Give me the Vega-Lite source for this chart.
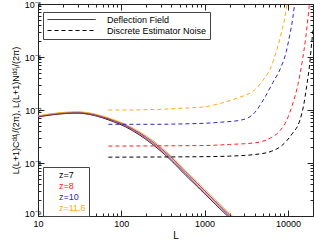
{
"$schema": "https://vega.github.io/schema/vega-lite/v6.json",
"width": 275, "height": 212,
"autosize": {"type": "none"},
"padding": {"left": 38, "top": 4, "right": 1, "bottom": 26},
"background": "white",
"config": {
 "font": "Liberation Sans",
 "view": {"stroke": "#222", "strokeWidth": 1},
 "axis": {"labelFont": "Liberation Sans", "labelFontSize": 9, "labelColor": "#000", "titleFont": "Liberation Sans", "titleFontSize": 10, "titleFontWeight": "normal", "titleColor": "#000", "domain": false, "grid": false, "tickColor": "#222", "tickWidth": 1, "labelOverlap": false, "labelFlush": false, "labelBound": false},
 "legend": {"labelFont": "Liberation Sans", "labelFontSize": 9, "labelColor": "#000"}
},
"data": {"values": [
{"L":10,"v":7.41e-8,"z":"z=7","t":"Deflection Field"},{"L":15,"v":8.13e-8,"z":"z=7","t":"Deflection Field"},{"L":20,"v":8.51e-8,"z":"z=7","t":"Deflection Field"},{"L":30,"v":8.71e-8,"z":"z=7","t":"Deflection Field"},{"L":40,"v":8.32e-8,"z":"z=7","t":"Deflection Field"},{"L":60,"v":7.08e-8,"z":"z=7","t":"Deflection Field"},{"L":80,"v":6.03e-8,"z":"z=7","t":"Deflection Field"},{"L":100,"v":5.25e-8,"z":"z=7","t":"Deflection Field"},{"L":150,"v":3.72e-8,"z":"z=7","t":"Deflection Field"},{"L":200,"v":2.75e-8,"z":"z=7","t":"Deflection Field"},{"L":300,"v":1.66e-8,"z":"z=7","t":"Deflection Field"},{"L":400,"v":1.10e-8,"z":"z=7","t":"Deflection Field"},{"L":600,"v":5.75e-9,"z":"z=7","t":"Deflection Field"},{"L":800,"v":3.72e-9,"z":"z=7","t":"Deflection Field"},{"L":1000,"v":2.63e-9,"z":"z=7","t":"Deflection Field"},{"L":1500,"v":1.41e-9,"z":"z=7","t":"Deflection Field"},{"L":2000,"v":9.12e-10,"z":"z=7","t":"Deflection Field"},{"L":3000,"v":4.90e-10,"z":"z=7","t":"Deflection Field"},
{"L":10,"v":7.52e-8,"z":"z=8","t":"Deflection Field"},{"L":15,"v":8.27e-8,"z":"z=8","t":"Deflection Field"},{"L":20,"v":8.66e-8,"z":"z=8","t":"Deflection Field"},{"L":30,"v":8.88e-8,"z":"z=8","t":"Deflection Field"},{"L":40,"v":8.50e-8,"z":"z=8","t":"Deflection Field"},{"L":60,"v":7.27e-8,"z":"z=8","t":"Deflection Field"},{"L":80,"v":6.22e-8,"z":"z=8","t":"Deflection Field"},{"L":100,"v":5.43e-8,"z":"z=8","t":"Deflection Field"},{"L":150,"v":3.89e-8,"z":"z=8","t":"Deflection Field"},{"L":200,"v":2.90e-8,"z":"z=8","t":"Deflection Field"},{"L":300,"v":1.77e-8,"z":"z=8","t":"Deflection Field"},{"L":400,"v":1.18e-8,"z":"z=8","t":"Deflection Field"},{"L":600,"v":6.15e-9,"z":"z=8","t":"Deflection Field"},{"L":800,"v":3.98e-9,"z":"z=8","t":"Deflection Field"},{"L":1000,"v":2.81e-9,"z":"z=8","t":"Deflection Field"},{"L":1500,"v":1.51e-9,"z":"z=8","t":"Deflection Field"},{"L":2000,"v":9.76e-10,"z":"z=8","t":"Deflection Field"},{"L":3000,"v":5.24e-10,"z":"z=8","t":"Deflection Field"},
{"L":10,"v":7.63e-8,"z":"z=10","t":"Deflection Field"},{"L":15,"v":8.41e-8,"z":"z=10","t":"Deflection Field"},{"L":20,"v":8.82e-8,"z":"z=10","t":"Deflection Field"},{"L":30,"v":9.06e-8,"z":"z=10","t":"Deflection Field"},{"L":40,"v":8.69e-8,"z":"z=10","t":"Deflection Field"},{"L":60,"v":7.47e-8,"z":"z=10","t":"Deflection Field"},{"L":80,"v":6.41e-8,"z":"z=10","t":"Deflection Field"},{"L":100,"v":5.62e-8,"z":"z=10","t":"Deflection Field"},{"L":150,"v":4.06e-8,"z":"z=10","t":"Deflection Field"},{"L":200,"v":3.06e-8,"z":"z=10","t":"Deflection Field"},{"L":300,"v":1.88e-8,"z":"z=10","t":"Deflection Field"},{"L":400,"v":1.26e-8,"z":"z=10","t":"Deflection Field"},{"L":600,"v":6.58e-9,"z":"z=10","t":"Deflection Field"},{"L":800,"v":4.26e-9,"z":"z=10","t":"Deflection Field"},{"L":1000,"v":3.01e-9,"z":"z=10","t":"Deflection Field"},{"L":1500,"v":1.61e-9,"z":"z=10","t":"Deflection Field"},{"L":2000,"v":1.04e-9,"z":"z=10","t":"Deflection Field"},{"L":3000,"v":5.61e-10,"z":"z=10","t":"Deflection Field"},
{"L":10,"v":7.75e-8,"z":"z=11.6","t":"Deflection Field"},{"L":15,"v":8.55e-8,"z":"z=11.6","t":"Deflection Field"},{"L":20,"v":8.98e-8,"z":"z=11.6","t":"Deflection Field"},{"L":30,"v":9.24e-8,"z":"z=11.6","t":"Deflection Field"},{"L":40,"v":8.88e-8,"z":"z=11.6","t":"Deflection Field"},{"L":60,"v":7.67e-8,"z":"z=11.6","t":"Deflection Field"},{"L":80,"v":6.61e-8,"z":"z=11.6","t":"Deflection Field"},{"L":100,"v":5.82e-8,"z":"z=11.6","t":"Deflection Field"},{"L":150,"v":4.24e-8,"z":"z=11.6","t":"Deflection Field"},{"L":200,"v":3.23e-8,"z":"z=11.6","t":"Deflection Field"},{"L":300,"v":2.01e-8,"z":"z=11.6","t":"Deflection Field"},{"L":400,"v":1.35e-8,"z":"z=11.6","t":"Deflection Field"},{"L":600,"v":7.04e-9,"z":"z=11.6","t":"Deflection Field"},{"L":800,"v":4.56e-9,"z":"z=11.6","t":"Deflection Field"},{"L":1000,"v":3.22e-9,"z":"z=11.6","t":"Deflection Field"},{"L":1500,"v":1.73e-9,"z":"z=11.6","t":"Deflection Field"},{"L":2000,"v":1.12e-9,"z":"z=11.6","t":"Deflection Field"},{"L":3000,"v":6.00e-10,"z":"z=11.6","t":"Deflection Field"},
{"L":70,"v":1.0e-7,"z":"z=11.6","t":"Discrete Estimator Noise"},{"L":100,"v":1.0e-7,"z":"z=11.6","t":"Discrete Estimator Noise"},{"L":251,"v":1.023e-7,"z":"z=11.6","t":"Discrete Estimator Noise"},{"L":631,"v":1.096e-7,"z":"z=11.6","t":"Discrete Estimator Noise"},{"L":1000,"v":1.148e-7,"z":"z=11.6","t":"Discrete Estimator Noise"},{"L":1585,"v":1.349e-7,"z":"z=11.6","t":"Discrete Estimator Noise"},{"L":2512,"v":1.698e-7,"z":"z=11.6","t":"Discrete Estimator Noise"},{"L":3981,"v":2.399e-7,"z":"z=11.6","t":"Discrete Estimator Noise"},{"L":5012,"v":3.631e-7,"z":"z=11.6","t":"Discrete Estimator Noise"},{"L":6310,"v":6.607e-7,"z":"z=11.6","t":"Discrete Estimator Noise"},{"L":7244,"v":1.259e-6,"z":"z=11.6","t":"Discrete Estimator Noise"},{"L":8318,"v":2.818e-6,"z":"z=11.6","t":"Discrete Estimator Noise"},{"L":9120,"v":5.248e-6,"z":"z=11.6","t":"Discrete Estimator Noise"},{"L":9772,"v":1.0e-5,"z":"z=11.6","t":"Discrete Estimator Noise"},{"L":10715,"v":2.512e-5,"z":"z=11.6","t":"Discrete Estimator Noise"},
{"L":70,"v":5.37e-8,"z":"z=10","t":"Discrete Estimator Noise"},{"L":251,"v":5.37e-8,"z":"z=10","t":"Discrete Estimator Noise"},{"L":631,"v":5.50e-8,"z":"z=10","t":"Discrete Estimator Noise"},{"L":1000,"v":5.62e-8,"z":"z=10","t":"Discrete Estimator Noise"},{"L":1585,"v":5.89e-8,"z":"z=10","t":"Discrete Estimator Noise"},{"L":2754,"v":6.46e-8,"z":"z=10","t":"Discrete Estimator Noise"},{"L":3981,"v":8.91e-8,"z":"z=10","t":"Discrete Estimator Noise"},{"L":5248,"v":1.698e-7,"z":"z=10","t":"Discrete Estimator Noise"},{"L":6607,"v":3.311e-7,"z":"z=10","t":"Discrete Estimator Noise"},{"L":8318,"v":6.607e-7,"z":"z=10","t":"Discrete Estimator Noise"},{"L":9550,"v":1.259e-6,"z":"z=10","t":"Discrete Estimator Noise"},{"L":10471,"v":2.512e-6,"z":"z=10","t":"Discrete Estimator Noise"},{"L":11482,"v":5.623e-6,"z":"z=10","t":"Discrete Estimator Noise"},{"L":12023,"v":1.0e-5,"z":"z=10","t":"Discrete Estimator Noise"},{"L":12882,"v":2.512e-5,"z":"z=10","t":"Discrete Estimator Noise"},
{"L":70,"v":2.089e-8,"z":"z=8","t":"Discrete Estimator Noise"},{"L":1000,"v":2.138e-8,"z":"z=8","t":"Discrete Estimator Noise"},{"L":1995,"v":2.239e-8,"z":"z=8","t":"Discrete Estimator Noise"},{"L":3981,"v":2.399e-8,"z":"z=8","t":"Discrete Estimator Noise"},{"L":6310,"v":3.020e-8,"z":"z=8","t":"Discrete Estimator Noise"},{"L":7943,"v":3.981e-8,"z":"z=8","t":"Discrete Estimator Noise"},{"L":9550,"v":6.166e-8,"z":"z=8","t":"Discrete Estimator Noise"},{"L":11220,"v":1.202e-7,"z":"z=8","t":"Discrete Estimator Noise"},{"L":13183,"v":3.020e-7,"z":"z=8","t":"Discrete Estimator Noise"},{"L":14791,"v":7.943e-7,"z":"z=8","t":"Discrete Estimator Noise"},{"L":16406,"v":2.399e-6,"z":"z=8","t":"Discrete Estimator Noise"},{"L":18113,"v":1.0e-5,"z":"z=8","t":"Discrete Estimator Noise"},{"L":19498,"v":2.818e-5,"z":"z=8","t":"Discrete Estimator Noise"},
{"L":70,"v":1.288e-8,"z":"z=7","t":"Discrete Estimator Noise"},{"L":1000,"v":1.318e-8,"z":"z=7","t":"Discrete Estimator Noise"},{"L":1995,"v":1.349e-8,"z":"z=7","t":"Discrete Estimator Noise"},{"L":3981,"v":1.445e-8,"z":"z=7","t":"Discrete Estimator Noise"},{"L":6310,"v":1.660e-8,"z":"z=7","t":"Discrete Estimator Noise"},{"L":8318,"v":2.089e-8,"z":"z=7","t":"Discrete Estimator Noise"},{"L":11220,"v":3.548e-8,"z":"z=7","t":"Discrete Estimator Noise"},{"L":13804,"v":6.166e-8,"z":"z=7","t":"Discrete Estimator Noise"},{"L":15488,"v":1.259e-7,"z":"z=7","t":"Discrete Estimator Noise"},{"L":16788,"v":2.818e-7,"z":"z=7","t":"Discrete Estimator Noise"},{"L":18197,"v":7.079e-7,"z":"z=7","t":"Discrete Estimator Noise"},{"L":19275,"v":1.820e-6,"z":"z=7","t":"Discrete Estimator Noise"},{"L":20417,"v":4.467e-6,"z":"z=7","t":"Discrete Estimator Noise"},{"L":21380,"v":1.122e-5,"z":"z=7","t":"Discrete Estimator Noise"}
]},
"layer": [
 {"mark": {"type": "line", "clip": true, "strokeWidth": 1, "interpolate": "monotone"},
  "encoding": {
   "x": {"field": "L", "type": "quantitative", "scale": {"type": "log", "domain": [10, 20000], "nice": false},
     "axis": {"orient": "bottom", "values": [10,20,30,40,50,60,70,80,90,100,200,300,400,500,600,700,800,900,1000,2000,3000,4000,5000,6000,7000,8000,9000,10000,20000],
      "tickSize": {"condition": {"test": "abs(log(datum.value)/LN10 - round(log(datum.value)/LN10)) < 0.01", "value": -6}, "value": -3},
      "labelExpr": "abs(log(datum.value)/LN10 - round(log(datum.value)/LN10)) < 0.01 ? format(datum.value, 'd') : ''",
      "labelPadding": 9, "title": "L", "titlePadding": -1}},
   "y": {"field": "v", "type": "quantitative", "scale": {"type": "log", "domain": [1e-9, 1e-5], "nice": false},
     "axis": {"orient": "left", "values": [1e-9,2e-9,3e-9,4e-9,5e-9,6e-9,7e-9,8e-9,9e-9,1e-8,2e-8,3e-8,4e-8,5e-8,6e-8,7e-8,8e-8,9e-8,1e-7,2e-7,3e-7,4e-7,5e-7,6e-7,7e-7,8e-7,9e-7,1e-6,2e-6,3e-6,4e-6,5e-6,6e-6,7e-6,8e-6,9e-6,1e-5],
      "tickSize": {"condition": {"test": "abs(log(datum.value)/LN10 - round(log(datum.value)/LN10)) < 0.01", "value": -6}, "value": -3},
      "labelBaseline": {"condition": {"test": "datum.value < 2e-9", "value": "alphabetic"}, "value": "middle"},
      "labelExpr": "abs(log(datum.value)/LN10 - round(log(datum.value)/LN10)) < 0.01 ? '10⁻' + ['⁰','¹','²','³','⁴','⁵','⁶','⁷','⁸','⁹'][-round(log(datum.value)/LN10)] : ''",
      "labelPadding": 3, "title": "L(L+1)Cᵈᵈₗ/(2π),  L(L+1)Nᵈᵈₗ/(2π)", "titleFontSize": 9, "titlePadding": 4}},
   "color": {"field": "z", "type": "nominal",
     "scale": {"domain": ["z=7", "z=8", "z=10", "z=11.6"], "range": ["#000000", "#ff2020", "#2a2ac0", "#ffaa10"]},
     "legend": {"title": null, "orient": "none", "legendX": 5, "legendY": 163, "padding": 3, "rowPadding": 1, "strokeColor": "#444", "fillColor": "white", "symbolSize": 0, "symbolStrokeWidth": 0, "symbolOpacity": 0, "labelOffset": 4,
       "encode": {"labels": {"update": {"fill": {"scale": "color", "field": "value"}}}}}},
   "strokeDash": {"field": "t", "type": "nominal",
     "scale": {"domain": ["Deflection Field", "Discrete Estimator Noise"], "range": [[1, 0], [4, 3]]},
     "legend": {"title": null, "orient": "none", "legendX": 5, "legendY": 8, "padding": 3, "rowPadding": 1, "strokeColor": "#444", "fillColor": "white", "symbolType": "M-8,0H8", "symbolSize": 36, "symbolOffset": 21, "symbolStrokeColor": "black", "symbolStrokeWidth": 1, "labelOffset": 31}}
  }},
 {"mark": {"type": "point", "opacity": 0},
  "encoding": {
   "x": {"field": "L", "type": "quantitative", "scale": {"type": "log", "domain": [10, 20000], "nice": false},
     "axis": {"orient": "top", "values": [10,20,30,40,50,60,70,80,90,100,200,300,400,500,600,700,800,900,1000,2000,3000,4000,5000,6000,7000,8000,9000,10000,20000],
      "tickSize": {"condition": {"test": "abs(log(datum.value)/LN10 - round(log(datum.value)/LN10)) < 0.01", "value": -6}, "value": -3},
      "labels": false, "title": null}},
   "y": {"field": "v", "type": "quantitative", "scale": {"type": "log", "domain": [1e-9, 1e-5], "nice": false},
     "axis": {"orient": "right", "values": [1e-9,2e-9,3e-9,4e-9,5e-9,6e-9,7e-9,8e-9,9e-9,1e-8,2e-8,3e-8,4e-8,5e-8,6e-8,7e-8,8e-8,9e-8,1e-7,2e-7,3e-7,4e-7,5e-7,6e-7,7e-7,8e-7,9e-7,1e-6,2e-6,3e-6,4e-6,5e-6,6e-6,7e-6,8e-6,9e-6,1e-5],
      "tickSize": {"condition": {"test": "abs(log(datum.value)/LN10 - round(log(datum.value)/LN10)) < 0.01", "value": -6}, "value": -3},
      "labels": false, "title": null}}
  }}
],
"resolve": {"axis": {"x": "independent", "y": "independent"}}
}
